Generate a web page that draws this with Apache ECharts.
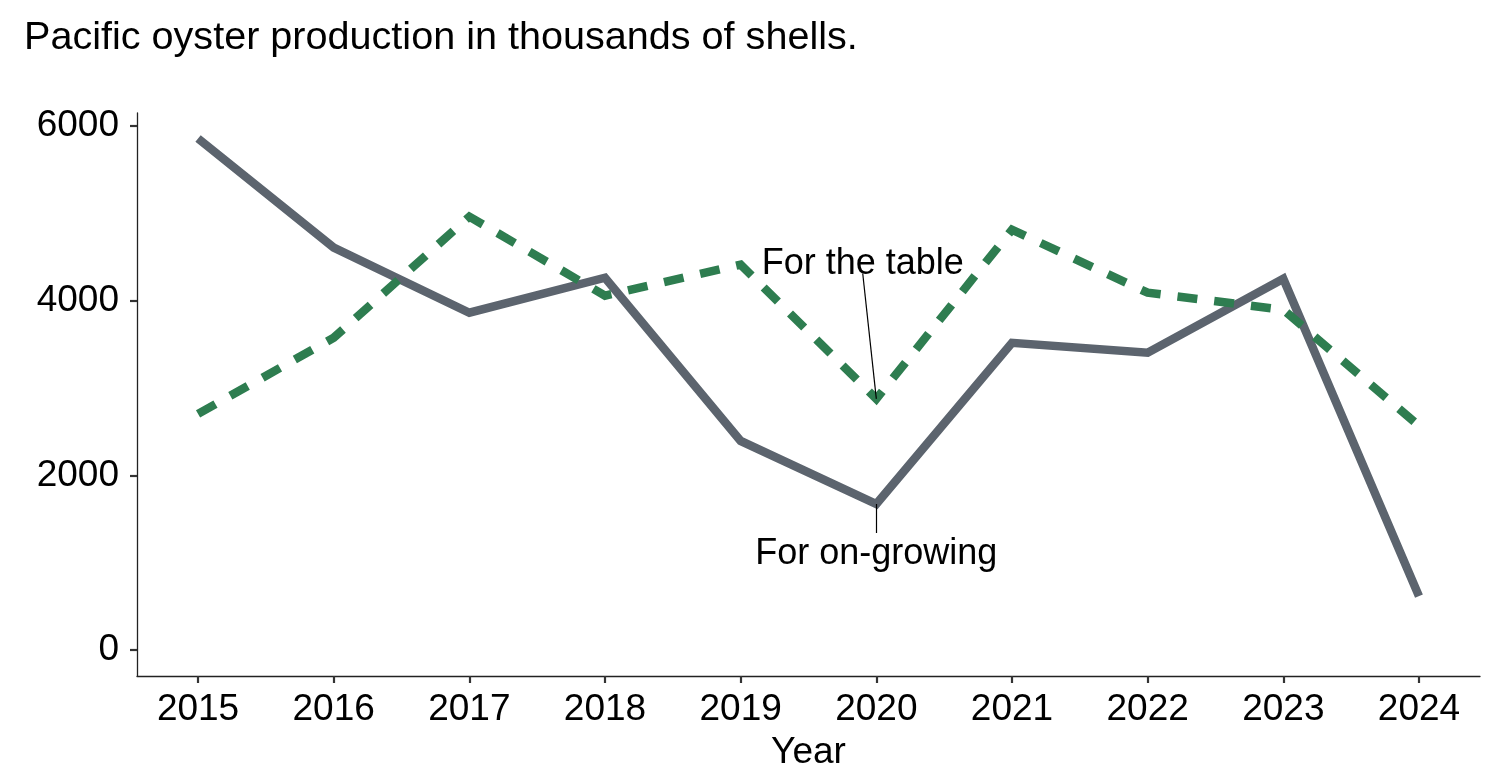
<!DOCTYPE html>
<html>
<head>
<meta charset="utf-8">
<script src="https://cdn.jsdelivr.net/npm/echarts@6/dist/echarts.min.js"></script>
<style>html,body{margin:0;padding:0;background:#fff;overflow:hidden}#c{width:100vw;height:100vh}</style>
</head>
<body>
<div id="c"></div>
<script>
const years = [2015, 2016, 2017, 2018, 2019, 2020, 2021, 2022, 2023, 2024];
const onGrowing = [5851, 4603, 3859, 4260, 2393, 1672, 3515, 3401, 4248, 618];
const forTable = [2702, 3573, 4958, 4054, 4409, 2874, 4809, 4088, 3893, 2565];
const yTicks = [0, 2000, 4000, 6000];
const labelTable = {text: 'For the table', x: 2019.9, y: 4420, lineFrom: [2019.9, 4305], lineTo: [2020, 2874]};
const labelGrowing = {text: 'For on-growing', x: 2020, y: 1100, lineFrom: [2020, 1672], lineTo: [2020, 1340]};

const FONT = "'Liberation Sans', Arial, sans-serif";
const chart = echarts.init(document.getElementById('c'), null, {renderer: 'canvas'});
const pair = (xs, ys) => xs.map((x, i) => [x, ys[i]]);

chart.setOption({
  animation: false,
  backgroundColor: '#ffffff',
  title: {
    text: 'Pacific oyster production in thousands of shells.',
    left: 19, top: 13,
    textStyle: {fontFamily: FONT, fontSize: 39.6, fontWeight: 'normal', color: '#000'}
  },
  grid: {left: 137, right: 22, top: 113, bottom: 106, containLabel: false},
  xAxis: {
    type: 'value', min: 2014.55, max: 2024.45,
    name: 'Year', nameLocation: 'middle', nameGap: 58,
    nameTextStyle: {fontFamily: FONT, fontSize: 37, color: '#000'},
    splitLine: {show: false},
    axisLine: {show: true, onZero: false, lineStyle: {color: '#222', width: 1.3}},
    axisTick: {show: true, length: 7, lineStyle: {color: '#333', width: 2.2}, customValues: years},
    axisLabel: {fontFamily: FONT, fontSize: 37, color: '#000', margin: 15, customValues: years, formatter: v => String(v)}
  },
  yAxis: {
    type: 'value', min: -295, max: 6143,
    splitLine: {show: false},
    axisLine: {show: true, onZero: false, lineStyle: {color: '#222', width: 1.3}},
    axisTick: {show: true, length: 7, lineStyle: {color: '#333', width: 2.2}, customValues: yTicks},
    axisLabel: {fontFamily: FONT, fontSize: 37, color: '#000', margin: 18, customValues: yTicks, formatter: v => String(v)}
  },
  series: [
    {
      name: 'For on-growing', type: 'line', data: pair(years, onGrowing),
      showSymbol: false, symbol: 'none', z: 2,
      lineStyle: {color: '#5c646e', width: 8.5, cap: 'butt', join: 'miter'},
      markLine: {
        silent: true, symbol: 'none', label: {show: false},
        lineStyle: {color: '#000', width: 1.2, type: 'solid'},
        data: [[{coord: labelGrowing.lineFrom}, {coord: labelGrowing.lineTo}]]
      },
      markPoint: {
        silent: true, symbol: 'circle', symbolSize: 0,
        label: {show: true, position: 'inside', formatter: labelGrowing.text, fontFamily: FONT, fontSize: 36, color: '#000'},
        data: [{coord: [labelGrowing.x, labelGrowing.y]}]
      }
    },
    {
      name: 'For the table', type: 'line', data: pair(years, forTable),
      showSymbol: false, symbol: 'none', z: 3,
      lineStyle: {color: '#2e7d50', width: 8.5, type: [20, 17], cap: 'butt', join: 'miter'},
      markLine: {
        silent: true, symbol: 'none', label: {show: false},
        lineStyle: {color: '#000', width: 1.2, type: 'solid'},
        data: [[{coord: labelTable.lineFrom}, {coord: labelTable.lineTo}]]
      },
      markPoint: {
        silent: true, symbol: 'circle', symbolSize: 0,
        label: {show: true, position: 'inside', formatter: labelTable.text, fontFamily: FONT, fontSize: 36, color: '#000'},
        data: [{coord: [labelTable.x, labelTable.y]}]
      }
    }
  ]
});
</script>
</body>
</html>
